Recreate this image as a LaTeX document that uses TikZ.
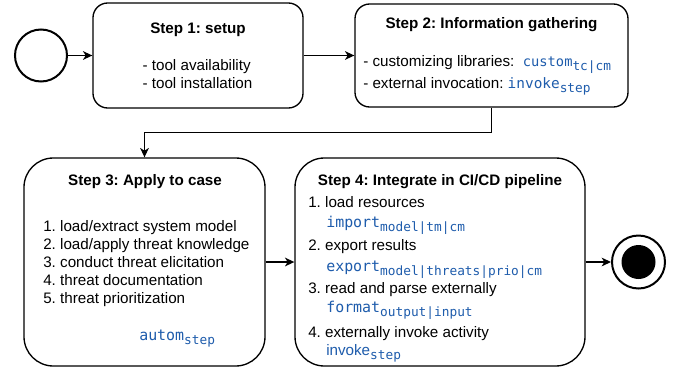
\documentclass[tikz,border=0pt]{standalone}
\usepackage{fontspec}
\setmainfont{Liberation Sans}
\newfontfamily\codefont{DejaVu Sans Mono}
\usetikzlibrary{arrows.meta, positioning}

\definecolor{codeblue}{RGB}{30,92,172}

% text sizes (1px = 0.75pt)
\newcommand{\txtsize}{\fontsize{11.4}{13.5}\selectfont}
% operation name with subscript, in mono
\newcommand{\codeop}[3][11.2]{{\color{codeblue}\codefont\fontsize{#1}{13}\selectfont #2\raisebox{-3pt}{\fontsize{9.6}{11}\selectfont #3}}}
% operation name in sans, subscript in mono
\newcommand{\sansop}[2]{{\color{codeblue}#1\raisebox{-3pt}{\codefont\fontsize{9.6}{11}\selectfont #2}}}

\frenchspacing

\begin{document}
\begin{tikzpicture}[
    x=0.75pt, y=-0.75pt,
    every node/.style={font=\txtsize, inner sep=0pt},
    stepbox/.style={draw, line width=1pt, fill=white},
    flow/.style={-{Stealth[length=7pt, width=6.5pt, inset=2pt]}, line width=1pt},
    title/.style={font=\txtsize\bfseries, anchor=base},
    item/.style={anchor=base west},
]
\def\px{0.75pt}

\useasboundingbox (0,0) rectangle (681,368);

% === Start and end states ===
\node[circle, draw, line width=1.5pt, minimum size={52*\px}] (start) at (41,55.5) {};
\node[circle, draw, line width=1.5pt, minimum size={53*\px}] (final) at (638.5,262) {};
\fill (final.center) circle (17);

% === Step boxes ===
\node[stepbox, rounded corners=11pt, minimum width={210*\px}, minimum height={105*\px}] (step1) at (198,55.5) {};
\node[stepbox, rounded corners=11pt, minimum width={273*\px}, minimum height={103*\px}] (step2) at (491.5,55.5) {};
\node[stepbox, rounded corners=22pt, minimum width={241*\px}, minimum height={208*\px}] (step3) at (144.5,262) {};
\node[stepbox, rounded corners=22pt, minimum width={290*\px}, minimum height={208*\px}] (step4) at (440,262) {};

% === Step 1 ===
\node[title] (s1title) at (198,33) {Step 1: setup};
\node[align=left, font=\fontsize{11.4}{13.5}\selectfont] (s1body) at (197.5,74) {- tool availability\\- tool installation};

% === Step 2 ===
\node[title] (s2title) at (491.5,28) {Step 2: Information gathering};
\node[item] (s2a) at (363,66.5) {- customizing libraries:\ \ \codeop[10.3]{custom}{tc|cm}};
\node[item] (s2b) at (363,88.5) {- external invocation: \codeop[10.8]{invoke}{step}};

% === Step 3 ===
\node[title] (s3title) at (145,185) {Step 3: Apply to case};
\foreach \txt [count=\i] in {load/extract system model, load/apply threat knowledge,
    conduct threat elicitation, threat documentation, threat prioritization} {
    \node[item] (s3item\i) at (43,{213+18*\i}) {\i. \txt};
}
\node[item] (s3autom) at (139,340) {\codeop{autom}{step}};

% === Step 4 ===
\node[title] (s4title) at (440,185) {\textbf{Step 4}: \textbf{Integrate in CI/CD pipeline}};
\node[item] (s4a) at (308,207) {1. load resources};
\node[item] (s4aop) at (326,227) {\codeop{import}{model|tm|cm}};
\node[item] (s4b) at (308,250) {2. export results};
\node[item] (s4bop) at (326,271) {\codeop{export}{model|threats|prio|cm}};
\node[item] (s4c) at (308,293.5) {3. read and parse externally};
\node[item] (s4cop) at (326,312) {\codeop{format}{output|input}};
\node[item] (s4d) at (308,337) {4. externally invoke activity};
\node[item] (s4dop) at (326,355) {\sansop{invoke}{step}};

% === Connectors ===
\draw[flow] (start) -- (step1);
\draw[flow] (step1) -- (step2);
\draw[flow] (step2.south) -- ++(0,25) -| (step3.north);
\draw[flow] (step3) -- (step4);
\draw[flow] (step4) -- (final);

\end{tikzpicture}
\end{document}
